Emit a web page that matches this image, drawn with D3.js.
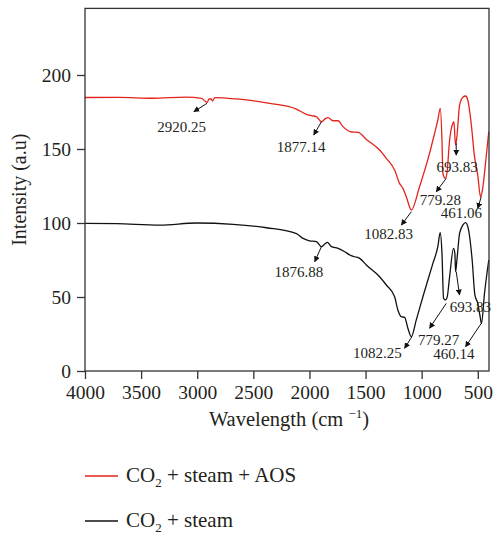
<!DOCTYPE html>
<html>
<head>
<meta charset="utf-8">
<script src="https://cdn.jsdelivr.net/npm/d3@7"></script>
<style>
  body { margin: 0; background: #fff; }
  svg text { font-family: "Liberation Serif", "DejaVu Serif", serif !important; fill: #231f20; }
</style>
</head>
<body>
<svg id="chart" width="494" height="537"></svg>
<script>
// CO2 + steam + AOS (red)
const aosWave = [4000, 3700, 3400, 3100, 2961, 2932, 2912, 2894, 2876, 2864, 2843, 2650, 2353, 2116, 2027, 1982, 1938, 1893, 1855, 1835, 1790, 1745, 1701, 1626, 1567, 1493, 1375, 1315, 1241, 1197, 1167, 1137, 1092, 1019, 930, 885, 856, 834, 819, 811, 789, 775, 751, 722, 713, 698, 686, 662, 633, 609, 589, 559, 529, 500, 476, 461, 425, 402];
const aosInt  = [184.8, 184.9, 184.3, 185, 184.2, 182.4, 181.5, 183.8, 183.8, 182.4, 184.7, 183.8, 180.9, 177, 173.4, 172.5, 171.8, 168.4, 170.7, 171.2, 169.1, 169.1, 165.1, 161.5, 161.3, 156.5, 149.3, 143.7, 135.8, 126.8, 123.4, 117.8, 108.8, 124.5, 147, 160.6, 169.6, 177.5, 156, 133.6, 130.2, 133.6, 156, 167.4, 168.4, 152.7, 158.3, 179.7, 185, 185.8, 183.1, 167.4, 144.8, 132.4, 117.8, 121.2, 144.8, 161.7];

// CO2 + steam (black)
const steamWave = [4000, 3718, 3333, 3006, 2680, 2383, 2116, 2057, 2000, 1938, 1893, 1864, 1840, 1804, 1745, 1686, 1641, 1597, 1552, 1493, 1375, 1315, 1241, 1212, 1182, 1152, 1123, 1092, 1048, 989, 900, 856, 835, 819, 805, 787, 772, 751, 716, 704, 698, 686, 662, 633, 609, 585, 550, 526, 500, 479, 467, 440, 402];
const steamInt  = [99.8, 99.6, 98.6, 100, 99.1, 96.8, 92.8, 89.6, 88, 87.4, 84, 85.8, 86.9, 84, 82.9, 80.6, 78.4, 77.2, 76.1, 71.6, 63.7, 58.1, 50.2, 41.2, 36.7, 36.3, 28.9, 23.2, 34.5, 50.2, 72.7, 84, 93.4, 79.5, 49.1, 48, 50.2, 63.7, 82.9, 79.5, 67.1, 75, 93, 98.6, 100.2, 96.4, 75, 51.4, 45.7, 36.7, 32.2, 52.5, 75];

const xTicks = [4000, 3500, 3000, 2500, 2000, 1500, 1000, 500];
const yTicks = [0, 50, 100, 150, 200];

// peak labels: text, arrow start on curve, arrow head, label anchor (all in data units)
const peakLabels = ["2920.25", "1877.14", "1082.83", "779.28", "693.83", "461.06", "1876.88", "1082.25", "779.27", "693.83", "460.14"];
const arrowFrom = [[2912, 180.9], [1893, 168.4], [1092, 107.6], [781, 130.2], [692, 153.9], [469, 117.8], [1893, 84], [1087, 23.2], [781, 45.7], [692, 67.1], [469, 32.2]];
const arrowTo   = [[3030, 175.2], [1962, 159.5], [1181, 98.6], [870, 121.1], [692, 145.9], [500, 109.9], [1953, 73.9], [1152, 15.3], [930, 28.9], [663, 51.4], [609, 16.4]];
const labelAt   = [[3139, 161.7], [2075, 148.2], [1294, 89], [833, 112.2], [685, 134.7], [646, 103.2], [2095, 63.7], [1394, 8.6], [848, 17.6], [566, 40.1], [714, 7.9]];

const svg = d3.select("#chart");
const mLeft = 85, mRight = 489, mTop = 8.4, mBottom = 371;
const serif = '"Liberation Serif", "DejaVu Serif", serif';

const x = d3.scaleLinear().domain([4000, 400]).range([mLeft, mRight]);
const y = d3.scaleLinear().domain([0, 245]).range([mBottom, mTop]);

svg.append("defs").append("marker")
    .attr("id", "arrow")
    .attr("viewBox", "0 0 10 10")
    .attr("refX", 9).attr("refY", 5)
    .attr("markerWidth", 6).attr("markerHeight", 6)
    .attr("markerUnits", "userSpaceOnUse")
    .attr("orient", "auto")
  .append("path")
    .attr("d", "M0,0L10,5L0,10Z")
    .attr("fill", "#111");

const line = d3.line()
    .x(d => x(d[0]))
    .y(d => y(d[1]))
    .curve(d3.curveMonotoneX);

svg.append("path")
    .datum(d3.zip(steamWave, steamInt))
    .attr("fill", "none")
    .attr("stroke", "#111")
    .attr("stroke-width", 1.3)
    .attr("d", line);

svg.append("path")
    .datum(d3.zip(aosWave, aosInt))
    .attr("fill", "none")
    .attr("stroke", "#e3231b")
    .attr("stroke-width", 1.3)
    .attr("d", line);

// frame
svg.append("rect")
    .attr("x", mLeft).attr("y", mTop)
    .attr("width", mRight - mLeft).attr("height", mBottom - mTop)
    .attr("fill", "none")
    .attr("stroke", "#333")
    .attr("stroke-width", 1.3);

const xAxis = svg.append("g")
    .attr("transform", `translate(0,${mBottom})`)
    .call(d3.axisBottom(x).tickValues(xTicks).tickSize(8).tickPadding(6).tickFormat(d3.format("d")));
const yAxis = svg.append("g")
    .attr("transform", `translate(${mLeft},0)`)
    .call(d3.axisLeft(y).tickValues(yTicks).tickSize(8).tickPadding(6));

[xAxis, yAxis].forEach(g => {
  g.attr("font-family", null).attr("font-size", null);
  g.select(".domain").remove();
  g.selectAll(".tick line").attr("stroke", "#333").attr("stroke-width", 1.3);
  g.selectAll(".tick text").style("font-family", serif).style("font-size", "19.5px").attr("fill", "#231f20");
});

// axis titles
const xt = svg.append("text")
    .attr("x", (mLeft + mRight) / 2 + 2).attr("y", 426)
    .attr("text-anchor", "middle")
    .style("font-size", "20.5px")
    .text("Wavelength (cm ");
xt.append("tspan").style("font-size", "13px").attr("dy", -8).text("−1");
xt.append("tspan").attr("dy", 8).text(")");

svg.append("text")
    .attr("transform", `translate(26,${(mTop + mBottom) / 2}) rotate(-90)`)
    .attr("text-anchor", "middle")
    .style("font-size", "20px")
    .text("Intensity (a.u)");

// peak annotations
peakLabels.forEach((t, i) => {
  svg.append("line")
      .attr("x1", x(arrowFrom[i][0])).attr("y1", y(arrowFrom[i][1]))
      .attr("x2", x(arrowTo[i][0])).attr("y2", y(arrowTo[i][1]))
      .attr("stroke", "#111")
      .attr("stroke-width", 1)
      .attr("marker-end", "url(#arrow)");
  svg.append("text")
      .attr("x", x(labelAt[i][0])).attr("y", y(labelAt[i][1]))
      .attr("text-anchor", "middle")
      .style("font-size", "15px")
      .text(t);
});

// legend
const legendItems = [
  {name: " + steam + AOS", color: "#e3231b"},
  {name: " + steam", color: "#111"}
];
legendItems.forEach((d, i) => {
  const ly = 476 + i * 45;
  svg.append("line")
      .attr("x1", 85).attr("x2", 118)
      .attr("y1", ly).attr("y2", ly)
      .attr("stroke", d.color)
      .attr("stroke-width", 1.3);
  const t = svg.append("text")
      .attr("x", 126).attr("y", ly + 6)
      .style("font-size", "21px")
      .text("CO");
  t.append("tspan").style("font-size", "13px").attr("dy", 5).text("2");
  t.append("tspan").attr("dy", -5).text(d.name);
});
</script>
</body>
</html>
